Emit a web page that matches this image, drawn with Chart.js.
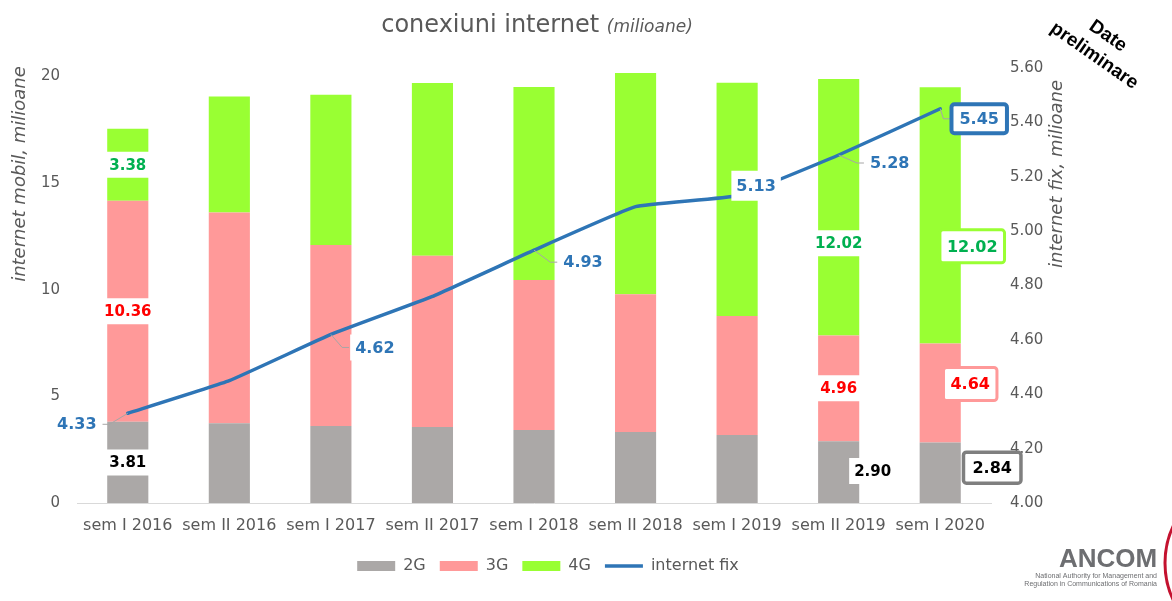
<!DOCTYPE html>
<html lang="ro">
<head>
<meta charset="utf-8">
<title>conexiuni internet</title>
<script src="https://cdn.jsdelivr.net/npm/chart.js@4/dist/chart.umd.min.js"></script>
<style>
  html, body { margin: 0; padding: 0; background: #fff; }
  #wrap { position: relative; width: 1172px; height: 601px; }
</style>
</head>
<body>
<div id="wrap"><canvas id="conexiuniChart"></canvas></div>
<script>
const semestre = ["sem I 2016", "sem II 2016", "sem I 2017", "sem II 2017", "sem I 2018",
  "sem II 2018", "sem I 2019", "sem II 2019", "sem I 2020"];

// internet mobil, milioane (stacked)
const conexiuni2G = [3.81, 3.74, 3.61, 3.56, 3.42, 3.33, 3.19, 2.90, 2.84];
const conexiuni3G = [10.36, 9.88, 8.49, 8.03, 7.04, 6.46, 5.58, 4.96, 4.64];
const conexiuni4G = [3.38, 5.44, 7.04, 8.11, 9.05, 10.38, 10.94, 12.02, 12.02];

// internet fix, milioane (right axis)
const internetFix = [4.33, 4.45, 4.62, 4.76, 4.93, 5.09, 5.13, 5.28, 5.45];

const mobilTicks = [0, 5, 10, 15, 20];
const fixTicks = [4.0, 4.2, 4.4, 4.6, 4.8, 5.0, 5.2, 5.4, 5.6];

const GREY_TEXT = "#595959";
const BLUE = "#2E75B6";

// which values get a label, and where the label box sits relative to its mark
const labelSpecs = [
  { ds: 0, i: 0, color: "#000000" },
  { ds: 1, i: 0, color: "#FF0000" },
  { ds: 2, i: 0, color: "#00B050" },
  { ds: 0, i: 7, color: "#000000", dx: 34, dy: -1 },
  { ds: 1, i: 7, color: "#FF0000" },
  { ds: 2, i: 7, color: "#00B050", dy: 36 },
  { ds: 0, i: 8, color: "#000000", dx: 52, dy: -5, size: 16, padX: 9, h: 31, border: "#7F7F7F", borderWidth: 3.5 },
  { ds: 1, i: 8, color: "#FF0000", dx: 30, dy: -9, size: 16, padX: 7, h: 33, border: "#FF9999", borderWidth: 3 },
  { ds: 2, i: 8, color: "#00B050", dx: 32, dy: 31, size: 16, padX: 7, h: 33, border: "#99FF33", borderWidth: 3 },
  { ds: 3, i: 0, color: BLUE, dx: -51, dy: 11, size: 16, leader: true },
  { ds: 3, i: 2, color: BLUE, dx: 44, dy: 13, size: 16, leader: true },
  { ds: 3, i: 4, color: BLUE, dx: 49, dy: 12, size: 16, leader: true },
  { ds: 3, i: 6, color: BLUE, dx: 19, dy: -10, size: 16, h: 30 },
  { ds: 3, i: 7, color: BLUE, dx: 51, dy: 8, size: 16, leader: true },
  { ds: 3, i: 8, color: BLUE, dx: 39, dy: 10, size: 16, padX: 8, h: 29, border: BLUE, borderWidth: 4, leader: true }
];

const valueLabels = {
  id: "valueLabels",
  afterDatasetsDraw(chart) {
    const ctx = chart.ctx;
    ctx.save();
    labelSpecs.forEach(spec => {
      const meta = chart.getDatasetMeta(spec.ds);
      const el = meta.data[spec.i];
      const value = chart.data.datasets[spec.ds].data[spec.i];
      const isLine = meta.type === "line";
      const anchorY = isLine ? el.y : (el.y + el.base) / 2;
      const cx = el.x + (spec.dx || 0);
      const cy = anchorY + (spec.dy || 0);
      const text = value.toFixed(2);

      ctx.font = `bold ${spec.size || 15}px "DejaVu Sans"`;
      const w = ctx.measureText(text).width + (spec.padX || 5) * 2;
      const h = spec.h || 26;

      if (spec.leader) {
        const side = spec.dx < 0 ? 1 : -1;
        const edgeX = cx + side * (w / 2 + 1);
        ctx.strokeStyle = "#A6A6A6";
        ctx.lineWidth = 1;
        ctx.beginPath();
        ctx.moveTo(el.x, el.y);
        ctx.lineTo(edgeX + side * 7, cy);
        ctx.lineTo(edgeX, cy);
        ctx.stroke();
      }

      ctx.beginPath();
      ctx.roundRect(cx - w / 2, cy - h / 2, w, h, spec.border ? 3 : 0);
      ctx.fillStyle = "#FFFFFF";
      ctx.fill();
      if (spec.border) {
        ctx.lineWidth = spec.borderWidth;
        ctx.strokeStyle = spec.border;
        ctx.stroke();
      }

      ctx.fillStyle = spec.color;
      ctx.textAlign = "center";
      ctx.textBaseline = "middle";
      ctx.fillText(text, cx, cy + 1);
    });
    ctx.restore();
  }
};

// nudge the legend row a little right of the plot centre
const legendShift = {
  id: "legendShift",
  afterLayout(chart) {
    if (chart.legend) {
      chart.legend.left += 14;
      chart.legend.right += 14;
    }
  }
};

// title, axis titles, the "Date preliminare" note and the ANCOM mark
const decorations = {
  id: "decorations",
  afterDraw(chart) {
    const ctx = chart.ctx;
    ctx.save();

    ctx.fillStyle = GREY_TEXT;
    ctx.textBaseline = "alphabetic";
    ctx.textAlign = "left";
    const mainFont = '24px "DejaVu Sans"';
    const subFont = 'italic 17px "DejaVu Sans"';
    ctx.font = mainFont;
    const mainText = "conexiuni internet ";
    const mainW = ctx.measureText(mainText).width;
    ctx.font = subFont;
    const subW = ctx.measureText("(milioane)").width;
    const startX = 537 - (mainW + subW) / 2;
    ctx.font = mainFont;
    ctx.fillText(mainText, startX, 32);
    ctx.font = subFont;
    ctx.fillText("(milioane)", startX + mainW, 32);

    ctx.font = 'italic 18px "DejaVu Sans"';
    ctx.textAlign = "center";
    ctx.textBaseline = "middle";
    [["internet mobil, milioane", 20], ["internet fix, milioane", 1057]].forEach(([t, x]) => {
      ctx.save();
      ctx.translate(x, 174);
      ctx.rotate(-Math.PI / 2);
      ctx.fillText(t, 0, 0);
      ctx.restore();
    });

    ctx.save();
    ctx.translate(1101, 46);
    ctx.rotate(35 * Math.PI / 180);
    ctx.fillStyle = "#000000";
    ctx.font = 'bold 19px "Liberation Sans"';
    ctx.fillText("Date", 0, -12);
    ctx.fillText("preliminare", 0, 12);
    ctx.restore();

    ctx.fillStyle = "#6D6E71";
    ctx.textAlign = "left";
    ctx.textBaseline = "alphabetic";
    ctx.font = 'bold 26px "Liberation Sans"';
    ctx.fillText("ANCOM", 1059, 567);
    ctx.textAlign = "right";
    ctx.font = '7px "Liberation Sans"';
    ctx.fillText("National Authority for Management and", 1157, 578);
    ctx.fillText("Regulation in Communications of Romania", 1157, 586);

    ctx.strokeStyle = "#C4122F";
    ctx.lineWidth = 3;
    ctx.beginPath();
    ctx.arc(1252, 563, 87, Math.PI - 0.62, Math.PI + 0.62);
    ctx.stroke();

    ctx.restore();
  }
};

function initConexiuniChart() {
  const ctx = document.getElementById("conexiuniChart");
  if (!ctx) {
    console.error("conexiuniChart canvas not found");
    return;
  }

  new Chart(ctx, {
    type: "bar",
    data: {
      labels: semestre,
      datasets: [
        { label: "2G", data: conexiuni2G, backgroundColor: "#ABA8A7", pointStyle: "rect", order: 1 },
        { label: "3G", data: conexiuni3G, backgroundColor: "#FF9999", pointStyle: "rect", order: 1 },
        { label: "4G", data: conexiuni4G, backgroundColor: "#99FF33", pointStyle: "rect", order: 1 },
        {
          type: "line",
          label: "internet fix",
          data: internetFix,
          yAxisID: "y1",
          borderColor: BLUE,
          backgroundColor: BLUE,
          borderWidth: 3.5,
          borderCapStyle: "round",
          tension: 0.1,
          fill: false,
          pointRadius: 0,
          pointHoverRadius: 0,
          pointStyle: "line",
          pointBorderColor: BLUE,
          pointBorderWidth: 3.5,
          order: 0
        }
      ]
    },
    options: {
      responsive: true,
      maintainAspectRatio: false,
      animation: false,
      categoryPercentage: 0.405,
      barPercentage: 1.0,
      layout: { padding: { top: 68, left: 0, right: 0, bottom: 17 } },
      scales: {
        x: {
          stacked: true,
          grid: { display: false, drawTicks: false },
          border: { display: true, color: "#D9D9D9", width: 1 },
          ticks: {
            color: GREY_TEXT,
            font: { family: "DejaVu Sans", size: 16 },
            padding: 13,
            maxRotation: 0,
            autoSkip: false
          },
          afterFit: scale => { scale.height = 41; }
        },
        y: {
          stacked: true,
          position: "left",
          min: 0,
          max: 20.4,
          grid: { display: false, drawTicks: false },
          border: { display: false },
          ticks: {
            color: GREY_TEXT,
            font: { family: "DejaVu Sans", size: 15 },
            padding: 17
          },
          afterBuildTicks: scale => { scale.ticks = mobilTicks.map(v => ({ value: v })); },
          afterFit: scale => { scale.width = 77; }
        },
        y1: {
          position: "right",
          min: 4.0,
          max: 5.6,
          grid: { display: false, drawTicks: false },
          border: { display: false },
          ticks: {
            color: GREY_TEXT,
            font: { family: "DejaVu Sans", size: 15 },
            padding: 19,
            callback: v => Number(v).toFixed(2)
          },
          afterBuildTicks: scale => { scale.ticks = fixTicks.map(v => ({ value: v })); },
          afterFit: scale => { scale.width = 181; }
        }
      },
      plugins: {
        title: { display: false },
        tooltip: { enabled: false },
        legend: {
          position: "bottom",
          fullSize: false,
          labels: {
            color: GREY_TEXT,
            font: { family: "DejaVu Sans", size: 16 },
            usePointStyle: true,
            pointStyleWidth: 38,
            boxHeight: 10,
            padding: 14,
            sort: (a, b) => a.datasetIndex - b.datasetIndex
          }
        }
      }
    },
    plugins: [valueLabels, legendShift, decorations]
  });
}

document.addEventListener("DOMContentLoaded", () => {
  initConexiuniChart();
});
</script>
</body>
</html>
